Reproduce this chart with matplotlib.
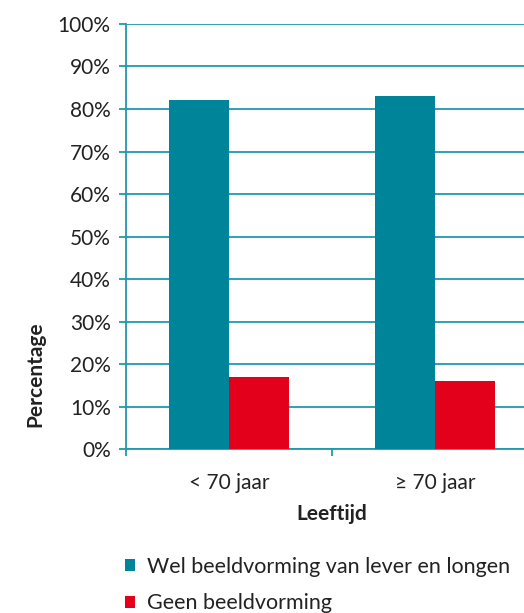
import matplotlib
matplotlib.use("Agg")
import matplotlib.pyplot as plt
import numpy as np

# Data
categories = ["< 70 jaar", "\u2265 70 jaar"]
series_names = ["Wel beeldvorming van lever en longen", "Geen beeldvorming"]
wel_beeldvorming = [82, 83]
geen_beeldvorming = [17, 16]
y_ticks = [0, 10, 20, 30, 40, 50, 60, 70, 80, 90, 100]

teal = "#00849a"
red = "#e2001a"
line_col = "#2199ad"
text_col = "#222222"

plt.rcParams["font.family"] = ["Lato", "DejaVu Sans"]

fig = plt.figure(figsize=(5.24, 6.13), dpi=100)
ax = fig.add_axes([0.2405, 0.267, 0.786, 0.694])

x = np.arange(len(categories))
w = 0.29
b1 = ax.bar(x - w / 2, wel_beeldvorming, width=w, color=teal, zorder=3)
b2 = ax.bar(x + w / 2, geen_beeldvorming, width=w, color=red, zorder=3)

ax.set_xlim(-0.5, 1.5)
ax.set_ylim(0, 100)
ax.set_yticks(y_ticks)
ax.set_yticklabels([f"{v}%" for v in y_ticks])
ax.yaxis.grid(True, color=line_col, linewidth=1.3, zorder=0)
ax.set_axisbelow(True)

# category boundaries as major ticks, labels on minor ticks
ax.set_xticks([-0.5, 0.5, 1.5])
ax.set_xticklabels([])
ax.set_xticks(x, minor=True)
ax.set_xticklabels(categories, minor=True)
ax.tick_params(axis="x", which="minor", length=0, pad=17, labelsize=15, labelcolor=text_col)
ax.tick_params(axis="x", which="major", length=5, width=1.3, color=line_col)
ax.tick_params(axis="y", length=5, width=1.3, color=line_col, labelsize=15,
               labelcolor=text_col, pad=6)

for side in ["top", "right"]:
    ax.spines[side].set_visible(False)
ax.spines["left"].set_color(line_col)
ax.spines["left"].set_linewidth(1.3)
ax.spines["bottom"].set_color(line_col)
ax.spines["bottom"].set_linewidth(1.3)

ax.set_ylabel("Percentage", fontsize=15, fontweight="bold", color=text_col)
ax.yaxis.set_label_coords(-0.197, 0.177)
ax.set_xlabel("Leeftijd", fontsize=15, fontweight="bold", color=text_col, labelpad=8)

leg = fig.legend([b1, b2], series_names, loc="center left",
                 bbox_to_anchor=(0.239, 0.0457), bbox_transform=fig.transFigure,
                 frameon=False, fontsize=15.5, handlelength=0.47, handleheight=0.47,
                 handletextpad=0.56, labelspacing=0.78, borderaxespad=0,
                 borderpad=0)
for t in leg.get_texts():
    t.set_color(text_col)

fig.savefig("out.png", dpi=100)
